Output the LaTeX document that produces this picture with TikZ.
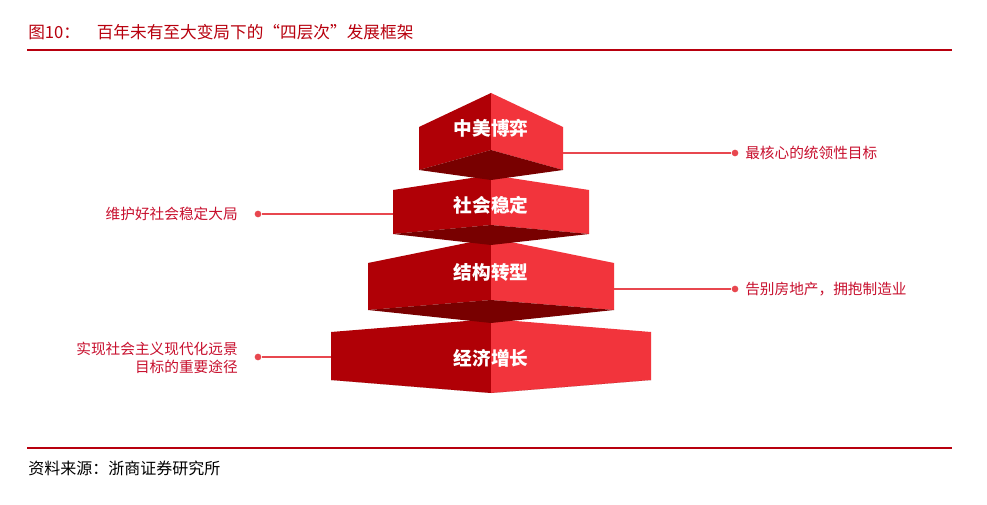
\documentclass[tikz,border=0pt]{standalone}
\usepackage{fontspec}
\setmainfont{Noto Sans CJK SC}
\newfontfamily\cjkb[BoldFont={Noto Sans CJK SC Bold}]{Noto Sans CJK SC}
\definecolor{hdr}{HTML}{B8000E}
\definecolor{lab}{HTML}{C8102E}
\definecolor{dk}{HTML}{B00006}
\definecolor{br}{HTML}{F2343C}
\definecolor{un}{HTML}{780000}
\definecolor{ln}{HTML}{E8474F}
\begin{document}
\begin{tikzpicture}[x=0.75pt,y=-0.75pt,
  lbl/.style={text=lab,font=\fontsize{11}{14}\selectfont,inner sep=0pt},
  blk/.style={text=white,font=\fontsize{14}{16}\selectfont\bfseries,inner sep=0pt},
  conn/.style={ln,line width=0.9pt},
  dotc/.style={circle,fill=ln,inner sep=0pt,minimum size=5pt}]
\useasboundingbox (0,0) rectangle (987,505);
\fill[white] (0,0) rectangle (987,505);
% header
\node[anchor=west,text=hdr,font=\fontsize{12.5}{14}\selectfont,inner sep=0pt] (title) at (28,32) {图10：\hspace{1em}百年未有至大变局下的“四层次”发展框架};
\draw[hdr,line width=1.5pt] (27,50) -- (952,50);
\draw[hdr,line width=1.2pt] (27,448) -- (952,448);
\node[anchor=west,font=\fontsize{12}{14}\selectfont,inner sep=0pt] (src) at (28,468) {资料来源：浙商证券研究所};
% blocks: \blockp{w}{yT}{yS}{yB}{yM}{yC}
\newcommand\blockp[6]{%
  \fill[dk] (491-#1,#3) -- (491,#2) -- (491,#5) -- (491-#1,#4) -- cycle;
  \fill[br] (491+#1,#3) -- (491,#2) -- (491,#5) -- (491+#1,#4) -- cycle;
  \fill[un] (491-#1,#4) -- (491,#5) -- (491+#1,#4) -- (491,#6) -- cycle;}
\blockp{160}{319}{332}{380}{393}{393}
\blockp{123}{238}{263}{310}{300}{323}
\blockp{98}{175}{190}{234}{225}{245}
\blockp{72}{93}{127}{170}{150}{180}
\node[blk] (b1) at (491,128) {中美博弈};
\node[blk] (b2) at (491,205) {社会稳定};
\node[blk] (b3) at (491,272) {结构转型};
\node[blk] (b4) at (491,358) {经济增长};
% connectors
\coordinate (r1) at (563,153); \node[dotc] (d1) at (735,153) {};
\draw[conn] (r1) -- (d1);
\node[lbl,anchor=west] (t1) at (745,153) {最核心的统领性目标};
\coordinate (l2) at (393,214); \node[dotc] (d2) at (258,214) {};
\draw[conn] (l2) -- (d2);
\node[lbl,anchor=east] (t2) at (238,214) {维护好社会稳定大局};
\coordinate (r3) at (614,289); \node[dotc] (d3) at (735,289) {};
\draw[conn] (r3) -- (d3);
\node[lbl,anchor=west] (t3) at (745,289) {告别房地产，拥抱制造业};
\coordinate (l4) at (331,357); \node[dotc] (d4) at (258,357) {};
\draw[conn] (l4) -- (d4);
\node[lbl,anchor=east,align=right] (t4) at (238,358) {实现社会主义现代化远景\\目标的重要途径};
\end{tikzpicture}
\end{document}
